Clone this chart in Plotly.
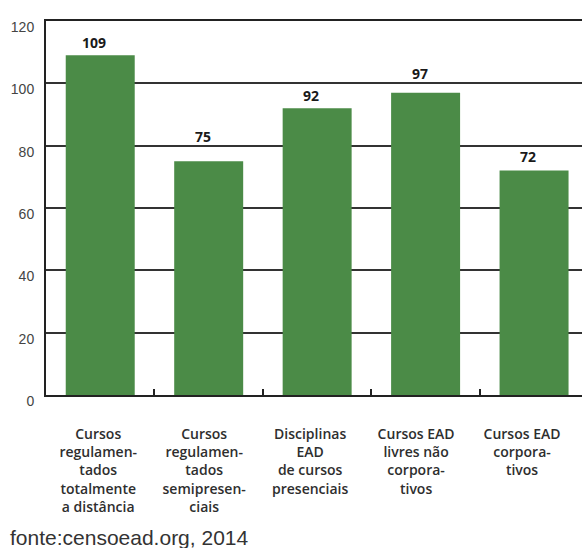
import plotly.graph_objects as go

categories = [
    "Cursos<br>regulamen-<br>tados<br>totalmente<br>a distância",
    "Cursos<br>regulamen-<br>tados<br>semipresen-<br>ciais",
    "Disciplinas<br>EAD<br>de cursos<br>presenciais",
    "Cursos EAD<br>livres não<br>corpora-<br>tivos",
    "Cursos EAD<br>corpora-<br>tivos",
]
values = [109, 75, 92, 97, 72]
y_ticks = [0, 20, 40, 60, 80, 100, 120]
source_note = "fonte:censoead.org, 2014"

# styling: vertical offset (px) of each value label above its bar
label_offsets = [13, 25, 13, 19, 14]

W, H = 582, 548
m_l, m_r, m_t, m_b = 46, 0, 21, 153
plot_h = H - m_t - m_b

fig = go.Figure()
fig.add_trace(go.Bar(
    x=categories, y=values,
    marker=dict(color="#4b8b47", line=dict(width=0)),
    width=0.636,
    hoverinfo="skip",
))
# invisible helper trace so the label axis (xaxis2) is drawn
fig.add_trace(go.Scatter(
    x=list(range(len(categories))), y=[None] * len(categories),
    xaxis="x2", yaxis="y", mode="markers",
    marker=dict(opacity=0), hoverinfo="skip", showlegend=False,
))

for c, v, off in zip(categories, values, label_offsets):
    fig.add_annotation(
        x=c, y=v, xref="x", yref="y", text=str(v), showarrow=False,
        yanchor="middle", xanchor="center", yshift=off, xshift=-6,
        font=dict(family="Open Sans", size=14, color="#1a1a1a", weight=700),
    )

fig.add_annotation(
    x=0, xref="paper", xanchor="left", xshift=-38,
    y=-(537 - (H - m_b)) / plot_h, yref="paper", yanchor="middle",
    text=source_note, showarrow=False,
    font=dict(family="Liberation Sans", size=21, color="#333333"),
)

fig.update_layout(
    width=W, height=H,
    margin=dict(l=m_l, r=m_r, t=m_t, b=m_b, pad=0),
    paper_bgcolor="white", plot_bgcolor="white",
    showlegend=False,
    xaxis=dict(
        type="category", range=[-0.5, 4.442],
        showline=True, linecolor="#222222", linewidth=2, mirror=True,
        ticks="inside", ticklen=6, tickwidth=1.5, tickcolor="#222222",
        tickson="boundaries", showgrid=False, showticklabels=False,
    ),
    xaxis2=dict(
        overlaying="x", anchor="y", side="bottom",
        range=[-0.4929, 4.566],
        tickmode="array", tickvals=list(range(len(categories))), ticktext=categories,
        showline=False, showgrid=False, zeroline=False, ticks="",
        ticklabelstandoff=29,
        tickfont=dict(family="Open Sans", size=14, color="#2e2e2e", weight=600),
    ),
    yaxis=dict(
        range=[0, 120], tickvals=y_ticks,
        showgrid=True, gridcolor="#333333", gridwidth=2,
        showline=True, linecolor="#222222", linewidth=2,
        zeroline=False, ticks="",
        ticklabelstandoff=7, ticklabelshift=6,
        tickfont=dict(family="Liberation Sans", size=14, color="#444444"),
    ),
)

fig.write_html("out.html")
